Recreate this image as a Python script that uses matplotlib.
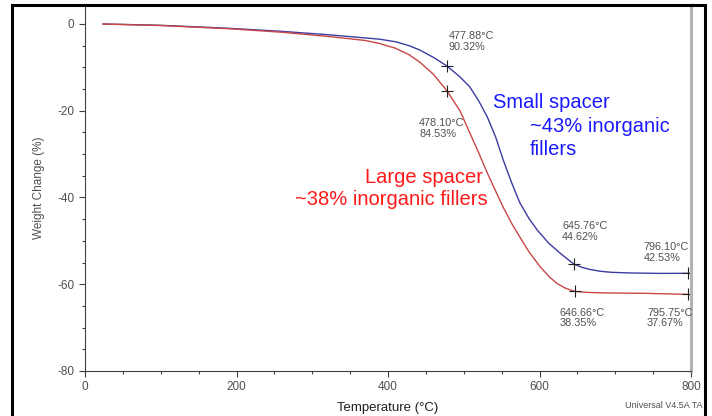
import numpy as np
import matplotlib
matplotlib.use('Agg')
import matplotlib.pyplot as plt
from matplotlib.patches import Rectangle
from matplotlib.ticker import MultipleLocator

plt.rcParams['font.family'] = ['Liberation Sans', 'DejaVu Sans']
plt.rcParams['axes.unicode_minus'] = False

# ==========================================
# 資料
# ==========================================
small_T = [24, 100, 191, 260, 323, 389, 410, 428, 442, 460, 477.88, 495, 508, 520, 531,
           542, 552, 563, 574, 586, 597, 612, 627, 637, 645.76, 656, 667, 680, 695, 720,
           760, 796.10, 800]
small_W = [0, -0.3, -1.0, -1.7, -2.5, -3.5, -4.1, -5.0, -6.0, -7.7, -9.68, -12.2, -14.5, -17.8,
           -21.4, -26.0, -31.3, -36.5, -41.2, -44.8, -47.5, -50.5, -52.8, -54.2, -55.38, -56.1,
           -56.6, -57.0, -57.25, -57.4, -57.5, -57.47, -57.5]

large_T = [24, 100, 191, 260, 323, 370, 389, 410, 428, 442, 460, 478.10, 495, 508, 520, 531,
           542, 552, 563, 574, 586, 601, 613, 623, 634, 646.66, 660, 675, 689, 740, 795.75, 800]
large_W = [0, -0.35, -1.1, -1.9, -2.9, -3.8, -4.5, -5.6, -7.1, -8.8, -11.6, -15.47, -20.0,
           -25.1, -29.8, -34.3, -38.5, -42.2, -45.9, -49.1, -52.5, -56.0, -58.3, -59.8, -60.9,
           -61.65, -61.85, -61.95, -62.0, -62.1, -62.33, -62.4]

# marker points: (T, residual %)
small_marks = [(477.88, 90.32), (645.76, 44.62), (796.10, 42.53)]
large_marks = [(478.10, 84.53), (646.66, 38.35), (795.75, 37.67)]

BLUE_LINE = '#3c3ca0'
RED_LINE  = '#c84646'
GRAY_TXT  = '#505050'

fig = plt.figure(figsize=(7.12, 4.16), dpi=100)
ax = fig.add_axes([85 / 712, 1 - 371 / 416, (691 - 85) / 712, (371 - 5) / 416])

ax.plot(small_T, small_W, color=BLUE_LINE, lw=1.0)
ax.plot(large_T, large_W, color=RED_LINE, lw=1.0)

for t, w in small_marks + large_marks:
    ax.plot(t, w - 100, marker='+', color='#202020', ms=9, mew=0.8)

ax.set_xlim(0, 800)
ax.set_ylim(-80, 4.38)
ax.xaxis.set_major_locator(MultipleLocator(200))
ax.xaxis.set_minor_locator(MultipleLocator(50))
ax.yaxis.set_major_locator(MultipleLocator(20))
ax.yaxis.set_minor_locator(MultipleLocator(5))
ax.tick_params(which='major', direction='out', length=4.5, width=0.8, color='#404040',
               labelsize=8.5, labelcolor=GRAY_TXT, pad=3)
ax.tick_params(which='minor', direction='out', length=2.5, width=0.8, color='#404040')

ax.spines['top'].set_visible(False)
ax.spines['left'].set_color('#404040')
ax.spines['bottom'].set_color('#404040')
ax.spines['left'].set_linewidth(0.8)
ax.spines['bottom'].set_linewidth(0.8)
ax.spines['right'].set_color('#b4b4b4')
ax.spines['right'].set_linewidth(2.2)

ax.set_xlabel('Temperature (°C)', fontsize=9.5, color='#202020', labelpad=6)
ax.set_ylabel('Weight Change (%)', fontsize=8.5, color=GRAY_TXT, labelpad=9)

# ── 標註 ──
ann_kw = dict(fontsize=7.8, color=GRAY_TXT, linespacing=1.1, va='top', ha='left')
ax.text(480, -1.7, '477.88°C\n90.32%', **ann_kw)
ax.text(441, -21.7, '478.10°C\n84.53%', **ann_kw)
ax.text(630, -45.4, '645.76°C\n44.62%', **ann_kw)
ax.text(737, -50.3, '796.10°C\n42.53%', **ann_kw)
ax.text(627, -65.4, '646.66°C\n38.35%', **ann_kw)
ax.text(742, -65.4, '795.75°C\n37.67%', **ann_kw)

big_kw = dict(fontsize=14.5, va='center')
ax.text(539, -18.1, 'Small spacer', color='#1a1aff', ha='left', **big_kw)
ax.text(587, -23.7, '~43% inorganic', color='#1a1aff', ha='left', **big_kw)
ax.text(587, -28.9, 'fillers', color='#1a1aff', ha='left', **big_kw)
ax.text(525, -35.4, 'Large spacer', color='#ff1a1a', ha='right', **big_kw)
ax.text(531, -40.5, '~38% inorganic fillers', color='#ff1a1a', ha='right', **big_kw)

fig.text(705 / 712 - 0.004, 1 - 405 / 416, 'Universal V4.5A TA', fontsize=6.5,
         color=GRAY_TXT, ha='right', va='center')

# 外框
fig.patches.append(Rectangle((12 / 712, -0.05), (705 - 12) / 712, 0.05 + 1 - 5 / 416,
                             transform=fig.transFigure, fill=False, edgecolor='black',
                             lw=2.2, zorder=10))

fig.savefig('out.png', dpi=100)
